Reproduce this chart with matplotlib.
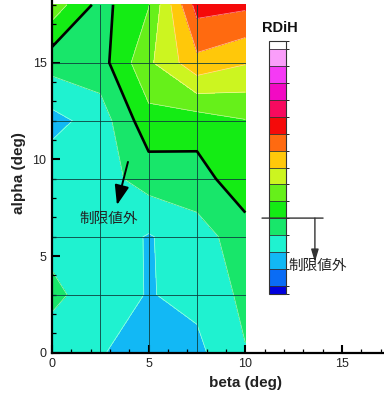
import numpy as np
import matplotlib
matplotlib.use("Agg")
import matplotlib.pyplot as plt
from matplotlib.colors import ListedColormap, BoundaryNorm
from matplotlib.cm import ScalarMappable
from matplotlib.transforms import blended_transform_factory
from matplotlib.ticker import MultipleLocator, FixedLocator

plt.rcParams["font.family"] = ["Liberation Sans", "Noto Sans CJK JP", "DejaVu Sans"]

# Sideslip / angle-of-attack mesh and the RDiH value at each node
beta = np.array([0.0, 2.5, 5.0, 7.5, 10.0])
alpha = np.array([0.0, 3.0, 6.0, 9.0, 12.0, 15.0, 18.0])
rdih = np.array([
    [3.42, 3.10, 2.30, 2.76, 3.95],
    [4.25, 3.45, 2.95, 3.25, 4.24],
    [3.65, 3.60, 2.92, 3.60, 4.50],
    [3.70, 3.60, 4.43, 4.55, 5.70],
    [2.65, 3.48, 5.65, 5.50, 5.95],
    [4.40, 4.59, 6.80, 8.70, 8.07],
    [6.60, 4.66, 5.95, 10.40, 10.21],
])

levels = np.arange(0, 17)
limit_level = 5
band_colors = [
    "#0000dd", "#0a6cf5", "#12b8f5", "#1ff2d0", "#18e66a", "#14ec14",
    "#66f01a", "#ccf520", "#ffc80a", "#ff6a10", "#f50a0a", "#f70a5f",
    "#f20ac3", "#f53af5", "#fa9efa", "#ffffff",
]
legend_bounds = np.concatenate(([0.5], np.arange(1, 16), [15.5]))
x_ticks = [0, 5, 10, 15]
y_ticks = [0, 5, 10, 15]
limit_text = "制限値外"

fig = plt.figure(figsize=(3.84, 3.94), dpi=100)
ax = fig.add_axes([52 / 384, 41.3 / 394, 386.6 / 384, 359.5 / 394])

ax.contourf(beta, alpha, rdih, levels=levels, colors=band_colors, zorder=1)
ax.contour(beta, alpha, rdih, levels=[l for l in levels if l != limit_level],
           colors="white", linewidths=0.5, alpha=0.6, zorder=1.2)
ax.contour(beta, alpha, rdih, levels=[limit_level], colors="black",
           linewidths=1.9, zorder=3)

# computational mesh lines
for b in beta[1:-1]:
    ax.plot([b, b], [alpha[0], alpha[-1]], color="#0d3d3d", lw=0.7, alpha=0.85, zorder=2)
for a in alpha[1:-1]:
    ax.plot([beta[0], beta[-1]], [a, a], color="#0d3d3d", lw=0.7, alpha=0.85, zorder=2)

ax.set_xlim(0, 20)
ax.set_ylim(0, 18.6)
ax.xaxis.set_major_locator(FixedLocator(x_ticks))
ax.xaxis.set_minor_locator(MultipleLocator(1))
ax.yaxis.set_major_locator(FixedLocator(y_ticks))
ax.yaxis.set_minor_locator(MultipleLocator(1))
ax.tick_params(which="major", direction="in", length=5.8, width=1.5,
               labelsize=9, labelcolor="#222222", pad=4)
ax.tick_params(which="minor", direction="in", length=2.8, width=0.9)
ax.spines["top"].set_visible(False)
ax.spines["right"].set_visible(False)
for s in ("left", "bottom"):
    ax.spines[s].set_linewidth(1.6)

ax.set_xlabel("beta (deg)", fontsize=11, fontweight="bold", color="#222222")
ax.set_ylabel("alpha (deg)", fontsize=11, fontweight="bold", color="#222222")
ax.xaxis.set_label_coords(0.5, -0.065)
ax.yaxis.set_label_coords(-0.067, 0.5)

# arrow pointing into the out-of-limit region
ax.annotate("", xy=(3.36, 7.64), xytext=(3.93, 9.87),
            arrowprops=dict(arrowstyle="-|>,head_length=0.6,head_width=0.22",
                            mutation_scale=20, lw=1.4, color="black",
                            shrinkA=0, shrinkB=0), zorder=4)
ax.text(2.95, 6.9, limit_text, ha="center", va="center", fontsize=10.5,
        color="#222222", family=["Noto Sans CJK JP"], zorder=4)

# contour legend
cax = fig.add_axes([269 / 384, 100 / 394, 17 / 384, 253 / 394])
sm = ScalarMappable(norm=BoundaryNorm(legend_bounds, len(band_colors)),
                    cmap=ListedColormap(band_colors))
cb = fig.colorbar(sm, cax=cax, boundaries=legend_bounds, spacing="proportional",
                  drawedges=True, ticks=[])
cb.outline.set_linewidth(0.8)
cb.outline.set_edgecolor("#333333")
cb.dividers.set_color("#333333")
cb.dividers.set_linewidth(0.6)
cax.set_ylim(legend_bounds[0], legend_bounds[-1])
fig.text(280 / 384, 1 - 28 / 394, "RDiH", ha="center", va="center",
         fontsize=10.5, fontweight="bold", color="#111111")

trans = blended_transform_factory(cax.transAxes, cax.transData)
cax.annotate("", xy=(3.18, limit_level), xytext=(-0.41, limit_level),
             xycoords=trans, textcoords=trans, annotation_clip=False,
             arrowprops=dict(arrowstyle="-", lw=1.0, color="#333333",
                             shrinkA=0, shrinkB=0))
cax.annotate("", xy=(2.7, 2.4), xytext=(2.7, limit_level),
             xycoords=trans, textcoords=trans, annotation_clip=False,
             arrowprops=dict(arrowstyle="-|>,head_length=0.5,head_width=0.15",
                             mutation_scale=15, lw=1.0, color="#333333",
                             shrinkA=0, shrinkB=0))
cax.text(2.88, 2.16, limit_text, transform=trans, ha="center", va="center",
         fontsize=10.5, color="#222222", family=["Noto Sans CJK JP"])

fig.savefig("out.png", dpi=100)
